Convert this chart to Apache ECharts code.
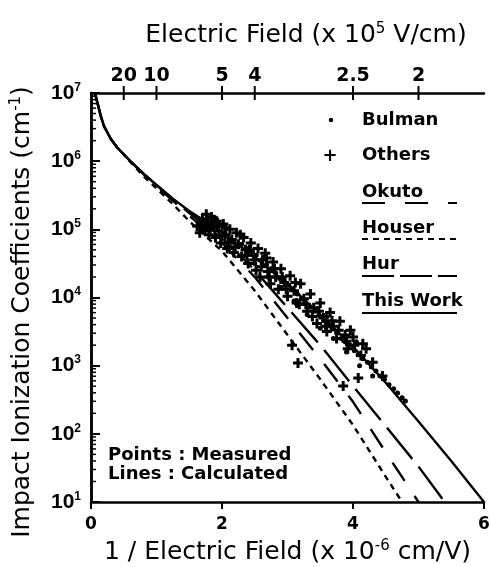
<!DOCTYPE html>
<html>
<head>
<meta charset="utf-8">
<script src="https://cdn.jsdelivr.net/npm/echarts@6/dist/echarts.min.js"></script>
<style>
  html, body { margin: 0; padding: 0; background: #fff; }
  #chart { width: 490px; height: 567px; }
</style>
</head>
<body>
<div id="chart"></div>
<script>
// impact ionization coefficients vs 1/E (log10 of alpha in cm^-1)
const FONT = '"Liberation Sans", Arial, sans-serif';
const WIDE = '"DejaVu Sans", sans-serif';

// top axis: electric field (x 1e5 V/cm)
const topTickLabels = ['20', '10', '5', '4', '2.5', '2'];
const topTickPos = topTickLabels.map(e => 10 / parseFloat(e)); // 1/E in 1e-6 cm/V

// calculated curves
const thisWorkX = [0.06, 0.1, 0.15, 0.2, 0.3, 0.4, 0.6, 0.8, 1.0, 1.25, 1.5, 2.0, 2.5, 3.0, 3.5, 4.0, 4.5, 5.0, 5.5, 6.0];
const thisWorkExp = [7.0, 6.85, 6.66, 6.51, 6.33, 6.20, 6.0, 5.82, 5.65, 5.45, 5.27, 4.96, 4.59, 4.2, 3.75, 3.28, 2.75, 2.18, 1.6, 1.0];
const hurX = [0.06, 0.1, 0.15, 0.2, 0.3, 0.4, 0.6, 0.8, 1.0, 1.25, 1.5, 2.0, 2.5, 3.0, 3.5, 4.0, 4.5, 5.0, 5.4];
const hurExp = [7.0, 6.85, 6.66, 6.51, 6.33, 6.20, 6.0, 5.82, 5.65, 5.44, 5.24, 4.88, 4.4, 3.85, 3.3, 2.70, 2.11, 1.52, 1.0];
const okutoX = [0.06, 0.1, 0.15, 0.2, 0.3, 0.4, 0.6, 0.8, 1.0, 1.25, 1.5, 2.0, 2.5, 3.0, 3.5, 4.0, 4.5, 5.0];
const okutoExp = [7.0, 6.85, 6.66, 6.51, 6.33, 6.20, 6.0, 5.81, 5.63, 5.42, 5.2, 4.8, 4.3, 3.7, 3.1, 2.47, 1.73, 1.0];
const houserX = [0.06, 0.1, 0.15, 0.2, 0.3, 0.4, 0.6, 0.8, 1.0, 1.25, 1.5, 2.0, 2.5, 3.0, 3.5, 4.0, 4.5, 4.75];
const houserExp = [7.0, 6.85, 6.66, 6.51, 6.33, 6.20, 5.99, 5.78, 5.6, 5.37, 5.12, 4.68, 4.1, 3.45, 2.8, 2.13, 1.37, 1.0];

// measured points [1/E, log10 alpha]
const bulmanPts = [
  [2.30, 4.78], [2.38, 4.72], [2.45, 4.66], [2.52, 4.62], [2.60, 4.55], [2.68, 4.48], [2.75, 4.42],
  [2.82, 4.36], [2.88, 4.28], [2.95, 4.25], [3.02, 4.18], [3.08, 4.12], [3.15, 4.05], [3.22, 3.98],
  [3.28, 3.92], [3.35, 3.86], [3.42, 3.80], [3.48, 3.74], [3.55, 3.66], [3.62, 3.60], [3.68, 3.54],
  [3.75, 3.48], [3.82, 3.40], [3.88, 3.35], [3.95, 3.30], [4.02, 3.22], [4.08, 3.16], [4.15, 3.10],
  [4.22, 3.05], [4.28, 2.98], [4.35, 2.92], [4.42, 2.85], [4.48, 2.80], [4.55, 2.72], [4.62, 2.66],
  [4.68, 2.60], [4.75, 2.53], [4.80, 2.48], [2.50, 4.50], [2.70, 4.30], [2.90, 4.15], [3.10, 3.95],
  [3.30, 3.75], [3.50, 3.55], [3.70, 3.40], [3.90, 3.20], [4.10, 3.00], [4.30, 2.85], [4.05, 3.35],
  [3.60, 3.72]
];
const othersPts = [
  [1.62, 5.05], [1.66, 4.95], [1.70, 5.15], [1.72, 5.02], [1.76, 5.22], [1.78, 5.10], [1.80, 4.92],
  [1.84, 5.18], [1.86, 5.05], [1.90, 4.88], [1.92, 5.12], [1.95, 4.98], [1.98, 4.80], [2.02, 5.08],
  [2.05, 4.92], [2.08, 4.72], [2.12, 5.00], [2.15, 4.85], [2.18, 4.66], [2.22, 4.95], [2.25, 4.78],
  [2.30, 4.60], [2.33, 4.88], [2.36, 4.70], [2.40, 4.50], [2.44, 4.80], [2.48, 4.62], [2.52, 4.40],
  [2.55, 4.72], [2.58, 4.30], [2.62, 4.55], [2.66, 4.65], [2.70, 4.38], [2.74, 4.20], [2.78, 4.52],
  [2.82, 4.30], [2.86, 4.12], [2.90, 4.42], [2.95, 4.22], [3.00, 4.02], [3.04, 4.32], [3.07, 3.30],
  [3.10, 4.10], [3.14, 3.92], [3.16, 3.04], [3.20, 4.20], [3.25, 3.98], [3.30, 3.80], [3.35, 4.05],
  [3.40, 3.85], [3.45, 3.62], [3.50, 3.92], [3.55, 3.70], [3.60, 3.50], [3.65, 3.78], [3.70, 3.58],
  [3.75, 3.40], [3.80, 3.65], [3.85, 2.70], [3.88, 3.45], [3.92, 3.25], [3.96, 3.52], [4.02, 3.30],
  [4.08, 2.82], [4.12, 3.15], [4.20, 3.25], [4.30, 3.05], [4.45, 2.85],
  [1.68, 5.08], [1.74, 4.98], [1.82, 5.02], [1.88, 5.14], [1.94, 5.04], [2.00, 4.90], [2.06, 5.02],
  [2.10, 4.80], [2.20, 4.74], [2.28, 4.92], [2.38, 4.62], [2.42, 4.70], [2.50, 4.55], [2.60, 4.45],
  [2.68, 4.58], [2.72, 4.30], [2.80, 4.42], [2.92, 4.30], [2.98, 4.12], [3.12, 4.22], [3.18, 3.90],
  [3.28, 3.90], [3.38, 3.72], [3.48, 3.80], [3.58, 3.58], [3.68, 3.66], [3.78, 3.52], [3.90, 3.36],
  [4.00, 3.42], [4.15, 3.32]
];

const toPairs = (xs, es) => xs.map((x, i) => [x, Math.pow(10, es[i])]);
const toVal = pts => pts.map(p => [p[0], Math.pow(10, p[1])]);

// log minor ticks on the left axis (2..9 x 10^n)
const minorTickVals = [];
for (let n = 1; n < 7; n++) {
  for (let k = 2; k < 10; k++) minorTickVals.push([0, k * Math.pow(10, n)]);
}

const chart = echarts.init(document.getElementById('chart'));

const curve = (name, xs, es, dash) => ({
  name: name,
  type: 'line',
  data: toPairs(xs, es),
  showSymbol: false,
  smooth: false,
  lineStyle: { color: '#000', width: 2.4, type: dash },
  z: 3
});

const supRich = {
  s: { fontSize: 15, fontFamily: WIDE, verticalAlign: 'top', padding: [0, 0, 12, 0], color: '#000' }
};
const legendText = (x, y, text) => ({
  type: 'text', x: x, y: y,
  style: { text: text, fontSize: 18, fontWeight: 'bold', fontFamily: WIDE, fill: '#000', verticalAlign: 'middle' }
});

const option = {
  animation: false,
  backgroundColor: '#fff',
  grid: { left: 91, right: 6, top: 93, bottom: 65, outerBoundsMode: 'none', containLabel: false },
  xAxis: [
    {
      type: 'value', min: 0, max: 6, interval: 2, position: 'bottom',
      axisLine: { lineStyle: { color: '#000', width: 2.5 } },
      axisTick: { inside: false, length: 7, lineStyle: { color: '#000', width: 2 } },
      splitLine: { show: false },
      axisLabel: { color: '#000', fontSize: 17, fontWeight: 'bold', fontFamily: WIDE, margin: 14 },
      name: '1 / Electric Field (x 10{s|-6} cm/V)',
      nameLocation: 'middle',
      nameGap: 37,
      nameTextStyle: { color: '#000', fontSize: 25, fontFamily: WIDE, rich: supRich }
    },
    {
      type: 'value', min: 0, max: 6, position: 'top',
      axisLine: { lineStyle: { color: '#000', width: 2.5 } },
      axisTick: { show: false },
      splitLine: { show: false },
      axisLabel: {
        color: '#000', fontSize: 19, fontWeight: 'bold', fontFamily: WIDE, margin: 7,
        customValues: topTickPos,
        formatter: v => {
          const i = topTickPos.findIndex(p => Math.abs(p - v) < 1e-6);
          return i >= 0 ? topTickLabels[i] : '';
        }
      }
    }
  ],
  yAxis: [
    {
      type: 'log', logBase: 10, min: 10, max: 1e7, position: 'left',
      axisLine: { lineStyle: { color: '#000', width: 2.5 } },
      axisTick: { inside: true, length: 9, lineStyle: { color: '#000', width: 2 } },
      splitLine: { show: false },
      axisLabel: {
        margin: 10,
        formatter: v => '{b|10}{s|' + Math.round(Math.log10(v)) + '}',
        rich: {
          b: { fontSize: 21, fontWeight: 'bold', fontFamily: FONT, color: '#000' },
          s: { fontSize: 12, fontWeight: 'bold', fontFamily: FONT, color: '#000', verticalAlign: 'top', padding: [0, 0, 11, 0] }
        }
      }
    },
    {
      type: 'log', logBase: 10, min: 10, max: 1e7, position: 'right',
      axisLine: { lineStyle: { color: '#000', width: 2.5 } },
      axisTick: { show: false },
      axisLabel: { show: false },
      splitLine: { show: false }
    }
  ],
  series: [
    curve('This Work', thisWorkX, thisWorkExp, 'solid'),
    curve('Hur', hurX, hurExp, [40, 10]),
    curve('Okuto', okutoX, okutoExp, [22, 18]),
    curve('Houser', houserX, houserExp, [6, 5]),
    {
      name: 'Others', type: 'scatter', data: toVal(othersPts),
      symbol: 'path://M3.5,0h3v3.5h3.5v3h-3.5v3.5h-3v-3.5h-3.5v-3h3.5z', symbolSize: 10,
      itemStyle: { color: '#000', opacity: 1 }, z: 4
    },
    {
      name: 'Bulman', type: 'scatter', data: toVal(bulmanPts),
      symbol: 'circle', symbolSize: 5,
      itemStyle: { color: '#000', opacity: 1 }, z: 4
    },
    {
      // log minor ticks on the left axis
      name: 'minorTicks', type: 'custom', data: minorTickVals, silent: true, clip: false,
      renderItem: (params, api) => {
        const p = api.coord([api.value(0), api.value(1)]);
        return { type: 'line', shape: { x1: p[0], y1: p[1], x2: p[0] + 5, y2: p[1] },
          style: { stroke: '#000', lineWidth: 1.5 } };
      }
    },
    {
      // crossing ticks on the top axis
      name: 'topTicks', type: 'custom', data: topTickPos.map(x => [x, 1e7]), silent: true, clip: false,
      renderItem: (params, api) => {
        const p = api.coord([api.value(0), api.value(1)]);
        return { type: 'line', shape: { x1: p[0], y1: p[1] - 7, x2: p[0], y2: p[1] + 7 },
          style: { stroke: '#000', lineWidth: 2 } };
      }
    }
  ],
  graphic: [
    { type: 'text', x: 306, y: 35, style: { text: 'Electric Field (x 10{s|5} V/cm)', fontSize: 25, fontFamily: WIDE, fill: '#000', align: 'center', verticalAlign: 'middle', rich: supRich } },
    { type: 'text', x: 22, y: 312, rotation: Math.PI / 2, style: { text: 'Impact Ionization Coefficients (cm{s|-1})', fontSize: 25, fontFamily: WIDE, fill: '#000', align: 'center', verticalAlign: 'middle', rich: supRich } },

    { type: 'circle', shape: { cx: 331, cy: 120, r: 2.2 }, style: { fill: '#000' } },
    legendText(362, 120, 'Bulman'),
    { type: 'text', x: 330, y: 156, style: { text: '+', fontSize: 18, fontWeight: 'bold', fontFamily: WIDE, fill: '#000', align: 'center', verticalAlign: 'middle' } },
    legendText(362, 155, 'Others'),
    legendText(362, 192, 'Okuto'),
    { type: 'line', shape: { x1: 362, y1: 203, x2: 457, y2: 203 }, style: { stroke: '#000', lineWidth: 2, lineDash: [23, 20] } },
    legendText(362, 228, 'Houser'),
    { type: 'line', shape: { x1: 362, y1: 239, x2: 457, y2: 239 }, style: { stroke: '#000', lineWidth: 2, lineDash: [6, 5] } },
    legendText(362, 264, 'Hur'),
    { type: 'line', shape: { x1: 362, y1: 276, x2: 457, y2: 276 }, style: { stroke: '#000', lineWidth: 2, lineDash: [32, 6] } },
    legendText(362, 301, 'This Work'),
    { type: 'line', shape: { x1: 362, y1: 313, x2: 457, y2: 313 }, style: { stroke: '#000', lineWidth: 2 } },

    legendText(108, 455, 'Points : Measured'),
    legendText(108, 474, 'Lines : Calculated')
  ]
};

chart.setOption(option);
</script>
</body>
</html>
